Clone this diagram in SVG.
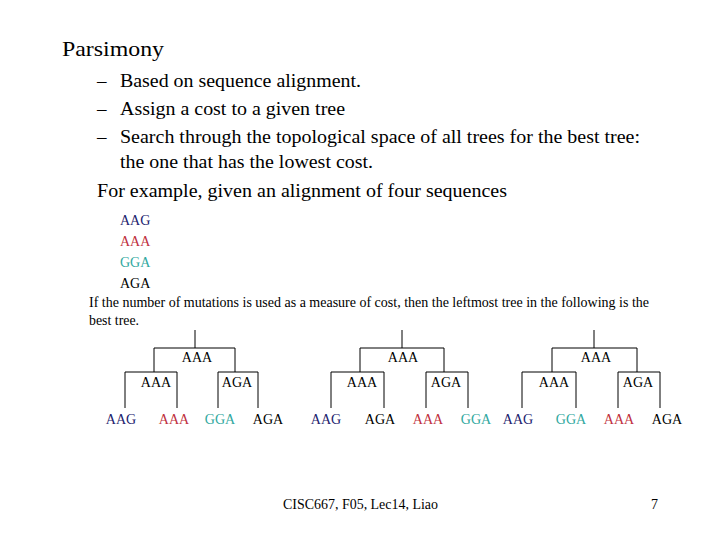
<svg xmlns="http://www.w3.org/2000/svg" width="720" height="540" viewBox="0 0 720 540">
<style>
text{font-family:"Liberation Serif",serif;fill:#000}
.h{font-size:22px}.b{font-size:19px}.s{font-size:14px}.p{font-size:14px}.t{font-size:14px;text-anchor:middle}
.g{fill:#22226e}.r{fill:#c03040}.c{fill:#30a8a0}
.e{stroke:#000;stroke-width:1;fill:none}
</style>
<rect width="720" height="540" fill="#fff"/>
<text class="h" x="62" y="56" textLength="102" lengthAdjust="spacingAndGlyphs">Parsimony</text>
<text class="b" x="97" y="87">–</text><text class="b" x="120" y="87" textLength="241" lengthAdjust="spacingAndGlyphs">Based on sequence alignment.</text>
<text class="b" x="97" y="115">–</text><text class="b" x="120" y="115" textLength="225" lengthAdjust="spacingAndGlyphs">Assign a cost to a given tree</text>
<text class="b" x="97" y="143">–</text><text class="b" x="120" y="143" textLength="520" lengthAdjust="spacingAndGlyphs">Search through the topological space of all trees for the best tree:</text>
<text class="b" x="120" y="168" textLength="253" lengthAdjust="spacingAndGlyphs">the one that has the lowest cost.</text>
<text class="b" x="97" y="197" textLength="410" lengthAdjust="spacingAndGlyphs">For example, given an alignment of four sequences</text>
<text class="s g" x="120" y="225">AAG</text>
<text class="s r" x="120" y="246">AAA</text>
<text class="s c" x="120" y="267">GGA</text>
<text class="s" x="120" y="288">AGA</text>
<text class="p" x="89" y="307" textLength="560" lengthAdjust="spacingAndGlyphs">If the number of mutations is used as a measure of cost, then the leftmost tree in the following is the</text>
<text class="p" x="89" y="325" textLength="50" lengthAdjust="spacingAndGlyphs">best tree.</text>
<g id="connectors" class="e">
<path d="M195 330V348M154 348H235M154 348V372M125 372H177M125 372V408M177 372V408M235 348V372M218 372H258M218 372V408M258 372V408"/>
<path d="M402 330V348M360 348H444M360 348V372M331 372H384M331 372V408M384 372V408M444 348V372M426 372H468M426 372V408M468 372V408"/>
<path d="M594 330V348M552 348H637M552 348V372M522 372H576M522 372V408M576 372V408M637 348V372M618 372H660M618 372V408M660 372V408"/>
</g>
<g id="tree1">
<text class="t" x="197" y="362">AAA</text><text class="t" x="156" y="387">AAA</text><text class="t" x="237" y="387">AGA</text>
<text class="t g" x="121" y="424">AAG</text><text class="t r" x="174" y="424">AAA</text><text class="t c" x="220" y="424">GGA</text><text class="t" x="268" y="424">AGA</text>
</g>
<g id="tree2">
<text class="t" x="403" y="362">AAA</text><text class="t" x="362" y="387">AAA</text><text class="t" x="446" y="387">AGA</text>
<text class="t g" x="326" y="424">AAG</text><text class="t" x="380" y="424">AGA</text><text class="t r" x="428" y="424">AAA</text><text class="t c" x="476" y="424">GGA</text>
</g>
<g id="tree3">
<text class="t" x="596" y="362">AAA</text><text class="t" x="554" y="387">AAA</text><text class="t" x="638" y="387">AGA</text>
<text class="t g" x="518" y="424">AAG</text><text class="t c" x="571" y="424">GGA</text><text class="t r" x="619" y="424">AAA</text><text class="t" x="667" y="424">AGA</text>
</g>
<text class="p" x="283" y="509" textLength="155" lengthAdjust="spacingAndGlyphs">CISC667, F05, Lec14, Liao</text>
<text class="p" x="651" y="509">7</text>
</svg>
